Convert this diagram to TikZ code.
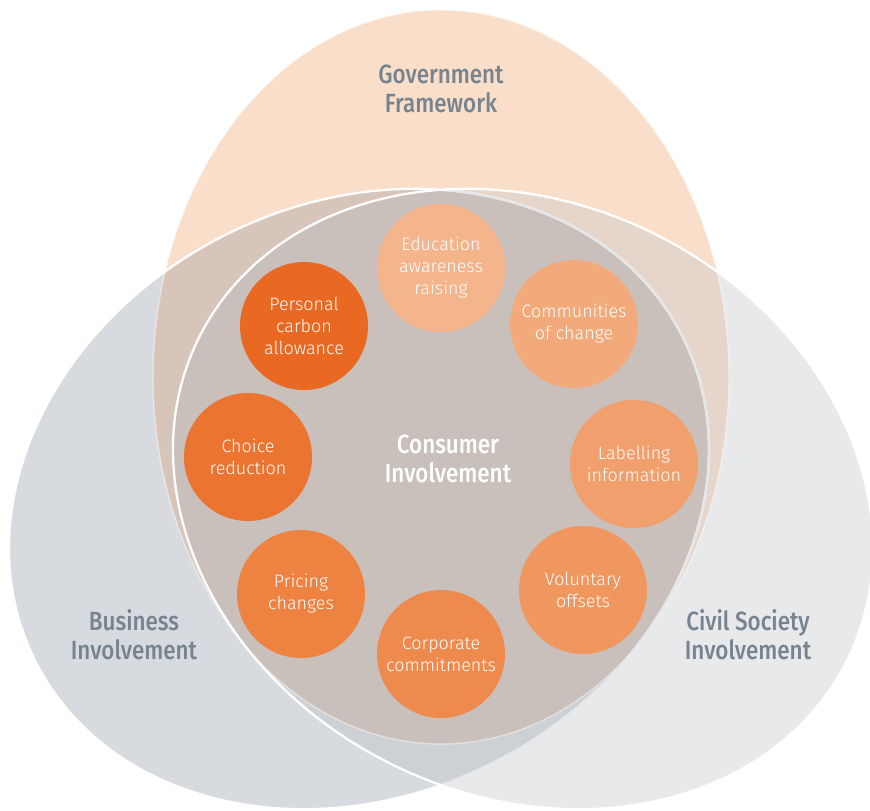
\documentclass[tikz,border=0pt]{standalone}
\usepackage{fontspec}
\newfontfamily\circfont{Fira Sans}[UprightFont=* Light]
\newfontfamily\labfont{Fira Sans}[UprightFont=* Medium, FakeStretch=0.85]
\definecolor{govc}{HTML}{F9DEC9}
\definecolor{busc}{HTML}{D7DBDF}
\definecolor{civc}{HTML}{E8E9EB}
\definecolor{bcc}{HTML}{CDD1D5}
\definecolor{gbc}{HTML}{D8C5BA}
\definecolor{gcc}{HTML}{E5D5CA}
\definecolor{gbcc}{HTML}{C9C0BC}
\definecolor{labc}{HTML}{77838F}
\definecolor{tintline}{HTML}{E4E6E9}
\definecolor{o1}{HTML}{E96822}
\definecolor{o2}{HTML}{EB7430}
\definecolor{o3}{HTML}{EE8240}
\definecolor{o4}{HTML}{EF8A4E}
\definecolor{o5}{HTML}{F0965F}
\definecolor{o6}{HTML}{F19F6C}
\definecolor{o7}{HTML}{F3AA7B}
\definecolor{o8}{HTML}{F4B48C}
\begin{document}
\begin{tikzpicture}[x=0.02cm,y=-0.02cm,
  Brot/.style={rotate around={26.4:(359,499)}},
  Crot/.style={rotate around={-26.4:(523,499)}},
  circ/.style={circle, minimum size=2.56cm, inner sep=0pt, text=white, align=center,
    font=\circfont\fontsize{10.2}{12.5}\selectfont},
  lab/.style={text=labc, align=center, font=\labfont\fontsize{15}{16.4}\selectfont},
  clab/.style={text=white, align=center, font=\labfont\fontsize{15}{16.4}\selectfont},
  outl/.style={draw=white, line width=1.3pt}]
\useasboundingbox (0,0) rectangle (870,811);
\fill[white] (0,0) rectangle (870,811);
% base fills
\fill[govc] (441,377) ellipse [x radius=288, y radius=367];
\fill[busc, Brot] (359,499) ellipse [x radius=362, y radius=296];
\fill[civc, Crot] (523,499) ellipse [x radius=362, y radius=296];
% B and C
\begin{scope}
  \clip[Brot] (359,499) ellipse [x radius=362, y radius=296];
  \fill[bcc, Crot] (523,499) ellipse [x radius=362, y radius=296];
\end{scope}
% G with B, C
\begin{scope}
  \clip (441,377) ellipse [x radius=288, y radius=367];
  \fill[gbc, Brot] (359,499) ellipse [x radius=362, y radius=296];
  \fill[gcc, Crot] (523,499) ellipse [x radius=362, y radius=296];
  \clip[Brot] (359,499) ellipse [x radius=362, y radius=296];
  \fill[gbcc, Crot] (523,499) ellipse [x radius=362, y radius=296];
\end{scope}
% outlines
\draw[white, opacity=0.45, line width=0.8pt] (441,377) ellipse [x radius=288, y radius=367];
\draw[outl, Brot] (359,499) ellipse [x radius=362, y radius=296];
\begin{scope}
  \clip[Crot] (523,499) ellipse [x radius=362, y radius=296];
  \draw[tintline, line width=1.3pt, Brot] (359,499) ellipse [x radius=362, y radius=296];
\end{scope}
\draw[outl, Crot] (523,499) ellipse [x radius=362, y radius=296];
% circles
\node[circ, fill=o8] (edu) at (441,268) {Education\\awareness\\raising};
\node[circ, fill=o7] (com) at (574,324) {Communities\\of change};
\node[circ, fill=o6] (lab) at (634,464) {Labelling\\information};
\node[circ, fill=o5] (vol) at (583,590) {Voluntary\\offsets};
\node[circ, fill=o4] (cor) at (441,654) {Corporate\\commitments};
\node[circ, fill=o3] (pri) at (301,594) {Pricing\\changes};
\node[circ, fill=o2] (cho) at (248,457) {Choice\\reduction};
\node[circ, fill=o1] (per) at (304,326) {Personal\\carbon\\allowance};
% labels
\node[lab] (gov) at (441,89) {Government\\Framework};
\node[clab] (con) at (448,459) {Consumer\\Involvement};
\node[lab] (bus) at (134,635) {Business\\Involvement};
\node[lab] (civ) at (748,635) {Civil Society\\Involvement};
\end{tikzpicture}
\end{document}
